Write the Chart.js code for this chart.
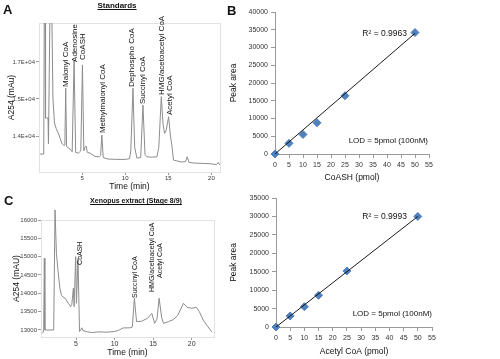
<!DOCTYPE html>
<html><head><meta charset="utf-8">
<script src="https://cdn.jsdelivr.net/npm/chart.js@4"></script>
<style>
body{margin:0;background:#fff;width:500px;height:359px;overflow:hidden;position:relative;font-family:"Liberation Sans",Arial,sans-serif;}
.box{position:absolute;}
.t{position:absolute;white-space:nowrap;color:#111;line-height:1;}
.lt{font-weight:bold;font-size:13px;}
.u{text-decoration:underline;font-weight:bold;}
</style></head><body>
<div class="box" style="left:0;top:0;width:228px;height:196px"><canvas id="cA"></canvas></div>
<div class="box" style="left:226px;top:0;width:274px;height:187px"><canvas id="cB"></canvas></div>
<div class="box" style="left:0;top:195px;width:228px;height:164px"><canvas id="cC"></canvas></div>
<div class="box" style="left:226px;top:187px;width:274px;height:172px"><canvas id="cD"></canvas></div>

<div class="t lt" style="left:3px;top:3px">A</div>
<div class="t u" style="left:117px;top:2px;font-size:8px;transform:translateX(-50%)">Standards</div>
<div class="t lt" style="left:227px;top:4px">B</div>
<div class="t lt" style="left:4px;top:194px">C</div>
<div class="t u" style="left:136px;top:197px;font-size:7px;transform:translateX(-50%)">Xenopus extract (Stage 8/9)</div>
<div class="t" style="right:93px;top:29px;font-size:8.5px">R² = 0.9963</div>
<div class="t" style="right:72px;top:137px;font-size:8px">LOD = 5pmol (100nM)</div>
<div class="t" style="right:93px;top:212px;font-size:8.5px">R² = 0.9993</div>
<div class="t" style="right:68px;top:310px;font-size:8px">LOD = 5pmol (100nM)</div>

<script>
// ---------- Panel A : Standards chromatogram ----------
const A_TIME  = [0.12,0.55,0.62,0.70,0.76,1.05,1.10,1.30,1.45,1.62,1.80,2.00,2.24,2.64,2.90,3.00,3.10,3.20,3.60,3.85,4.07,4.25,4.57,4.85,5.04,5.20,5.35,5.47,5.60,5.93,6.50,7.00,7.15,7.29,7.45,8.00,9.00,10.0,10.5,10.65,10.9,11.1,11.36,11.8,12.06,12.3,12.52,13.0,13.68,13.9,14.19,14.4,14.57,14.75,15.04,15.25,15.43,15.6,16.0,16.5,17.0,17.2,17.4,18.0,19.0,20.0,20.6,20.8,21.0];
const A_VALUE = [13513,13513,18000,18000,14486,14486,13800,18000,18000,15000,14350,14200,14081,13811,13740,13760,15290,13720,13650,13576,16054,13560,13540,13600,15919,13600,13700,13730,13560,13540,13450,13440,13480,14027,13420,13380,13370,13370,13390,13600,15290,13700,13405,13420,14838,13500,13440,13430,13440,13700,15063,14300,14072,14150,14522,14000,13730,13351,13330,13300,13310,13440,13290,13270,13262,13250,13230,13290,13216];
const A_XTICKS = [5,10,15,20];
const A_YTICKS = [14000,15000,16000];
const A_YLABELS = ["1.4E+04","1.5E+04","1.7E+04"];
const A_PEAK_NAMES  = ["Malonyl CoA","Adenosine","CoASH","Methylmalonyl CoA","Dephospho CoA","Succinyl CoA","HMG/acetoacetyl CoA","Acetyl CoA"];
const A_PEAK_TIMES  = [3.14,4.19,5.12,7.38,10.81,12.09,14.19,15.23];
const A_PEAK_VALUES = [15324,16000,16054,14081,15324,14865,15108,14568];

// ---------- Panel B : CoASH calibration ----------
const B_X = [0,5,10,15,25,50];
const B_Y = [0,3000,5500,8800,16400,34200];
const B_TREND_X = [0,50];
const B_TREND_Y = [0,34000];

// ---------- Panel C : Xenopus extract chromatogram ----------
const C_TIME  = [0.67,0.80,0.88,0.95,2.10,2.27,2.45,2.65,2.90,3.10,3.30,3.60,4.00,4.30,4.45,4.65,4.75,4.95,5.05,5.25,5.45,5.60,5.75,5.90,6.50,7.00,8.00,9.00,10.0,10.5,11.1,12.0,12.3,12.57,12.85,13.5,14.3,14.83,15.2,15.5,15.78,16.1,16.34,17.0,17.6,18.2,18.94,19.4,20.02,20.6,21.0,21.5,22.0,22.6];
const C_VALUE = [12910,13000,14957,13000,13000,16276,15094,14638,14138,13950,13900,13866,13729,13636,13700,14138,13636,15001,13729,14957,12960,13000,13060,12980,12950,12930,12950,12940,12960,12990,13055,13060,13080,13866,13227,13240,13320,13455,13182,13300,13866,13350,13180,13230,13280,13400,13729,13620,13590,13620,13500,13270,13120,12950];
const C_XTICKS = [5,10,15,20];
const C_YTICKS = [13000,13500,14000,14500,15000,15500,16000];
const C_PEAK_NAMES  = ["CoASH","Succinyl CoA","HMG/acetoacetyl CoA","Acetyl CoA"];
const C_PEAK_TIMES  = [5.52,12.6,14.8,15.84];
const C_PEAK_VALUES = [14775,13874,14037,14420];

// ---------- Panel D : Acetyl CoA calibration ----------
const D_X = [0,5,10,15,25,50];
const D_Y = [0,3000,5500,8600,15200,30000];
const D_TREND_X = [0,50];
const D_TREND_Y = [0,30000];

Chart.defaults.font.family = '"Liberation Sans", Arial, sans-serif';
Chart.defaults.color = '#333';
Chart.defaults.animation = false;
Chart.defaults.events = [];
Chart.defaults.plugins.legend.display = false;
Chart.defaults.plugins.tooltip.enabled = false;

const pts = (xs, ys) => xs.map((x, i) => ({x, y: ys[i]}));

const peakLabels = {
  id: 'peakLabels',
  afterDatasetsDraw(chart, args, o) {
    const {ctx, scales: {x, y}} = chart;
    ctx.save();
    ctx.font = o.font;
    ctx.fillStyle = '#111';
    ctx.textAlign = 'left';
    ctx.textBaseline = 'middle';
    o.names.forEach((n, i) => {
      const px = x.getPixelForValue(o.times[i]);
      const py = y.getPixelForValue(o.values[i]);
      ctx.save(); ctx.translate(px, py); ctx.rotate(-Math.PI / 2);
      ctx.fillText(n, 0, 0); ctx.restore();
    });
    ctx.restore();
  }
};
const frame = {
  id: 'frame',
  beforeDatasetsDraw(chart) {
    const {ctx, chartArea: a} = chart;
    ctx.save(); ctx.strokeStyle = '#e2e2e2'; ctx.lineWidth = 1;
    ctx.strokeRect(a.left + 0.5, a.top + 0.5, a.right - a.left, a.bottom - a.top);
    ctx.restore();
  }
};

const AX = '#9a9a9a';
function chromScales(xmin, xmax, xticks, ymin, ymax, yticks, ylabels, yw, xh, ytitle, ttlPadB, tickFont, yTickFont) {
  return {
    x: {type: 'linear', min: xmin, max: xmax,
      afterBuildTicks: s => { s.ticks = xticks.map(v => ({value: v})); },
      ticks: {autoSkip: false, maxRotation: 0, font: {size: tickFont}, padding: 0, color: '#333'},
      grid: {drawOnChartArea: false, tickLength: 3, color: AX},
      border: {color: AX},
      title: {display: true, text: 'Time (min)', font: {size: 8.5}, color: '#111', padding: {top: 0, bottom: ttlPadB}},
      afterFit: s => { s.height = xh; }
    },
    y: {type: 'linear', min: ymin, max: ymax,
      afterBuildTicks: s => { s.ticks = yticks.map(v => ({value: v})); },
      ticks: {font: {size: yTickFont}, padding: 1, color: '#444', callback: (v, i) => ylabels[i]},
      grid: {drawOnChartArea: false, tickLength: 3, color: AX},
      border: {color: AX},
      title: {display: true, text: ytitle, font: {size: 8.5}, color: '#111', padding: {top: 4, bottom: 0}},
      afterFit: s => { s.width = yw; }
    }
  };
}

new Chart(document.getElementById('cA'), {
  type: 'line',
  data: {datasets: [{data: pts(A_TIME, A_VALUE), borderColor: '#8c8c8c', borderWidth: 1, pointRadius: 0, tension: 0}]},
  options: {responsive: true, maintainAspectRatio: false,
    layout: {padding: {left: 3, top: 23, right: 8, bottom: 0}},
    scales: chromScales(0, 21, A_XTICKS, 13030, 17050, A_YTICKS, A_YLABELS, 36, 24, 'A254 (mAu)', 4, 6, 6),
    plugins: {peakLabels: {names: A_PEAK_NAMES, times: A_PEAK_TIMES, values: A_PEAK_VALUES, font: '8px "Liberation Sans", Arial, sans-serif'}}
  },
  plugins: [frame, peakLabels]
});

new Chart(document.getElementById('cC'), {
  type: 'line',
  data: {datasets: [{data: pts(C_TIME, C_VALUE), borderColor: '#8c8c8c', borderWidth: 1, pointRadius: 0, tension: 0, clip: false}]},
  options: {responsive: true, maintainAspectRatio: false,
    layout: {padding: {left: 8, top: 25, right: 14, bottom: 0}},
    scales: chromScales(0.45, 22.9, C_XTICKS, 12809, 16000, C_YTICKS, C_YTICKS.map(String), 33, 22, 'A254 (mAU)', 1, 7, 6),
    plugins: {peakLabels: {names: C_PEAK_NAMES, times: C_PEAK_TIMES, values: C_PEAK_VALUES, font: '7px "Liberation Sans", Arial, sans-serif'}}
  },
  plugins: [frame, peakLabels]
});

function calib(id, xs, ys, tx, ty, ymax, xtitle, pad, yw, xh, ttlPadB) {
  new Chart(document.getElementById(id), {
    type: 'scatter',
    data: {datasets: [
      {type: 'line', data: pts(tx, ty), borderColor: '#000', borderWidth: 0.9, pointRadius: 0, clip: false, order: 0},
      {data: pts(xs, ys), pointStyle: 'rectRot', pointRadius: 4, backgroundColor: '#4f81bd', borderColor: '#4f81bd', borderWidth: 1, clip: false, order: 1}
    ]},
    options: {responsive: true, maintainAspectRatio: false,
      layout: {padding: pad},
      scales: {
        x: {type: 'linear', min: 0, max: 55,
          ticks: {stepSize: 5, autoSkip: false, maxRotation: 0, font: {size: 7}, padding: 3, color: '#333', callback: v => String(v)},
          grid: {drawOnChartArea: false, tickLength: 4, color: AX},
          border: {color: AX},
          title: {display: true, text: xtitle, font: {size: 8.5}, color: '#111', padding: {top: 0, bottom: ttlPadB}},
          afterFit: s => { s.height = xh; }
        },
        y: {type: 'linear', min: 0, max: ymax,
          ticks: {stepSize: 5000, font: {size: 7}, padding: 3, color: '#333', callback: v => String(v)},
          grid: {drawOnChartArea: false, tickLength: 4, color: AX},
          border: {color: AX},
          title: {display: true, text: 'Peak area', font: {size: 8.5}, color: '#111', padding: {top: 3, bottom: 0}},
          afterFit: s => { s.width = yw; }
        }
      }
    }
  });
}
calib('cB', B_X, B_Y, B_TREND_X, B_TREND_Y, 40000, 'CoASH (pmol)', {left: 0, top: 12, right: 71, bottom: 0}, 49, 33, 4);
calib('cD', D_X, D_Y, D_TREND_X, D_TREND_Y, 35000, 'Acetyl CoA (pmol)', {left: 0, top: 11, right: 68, bottom: 0}, 50, 32, 2);
</script>
</body></html>
